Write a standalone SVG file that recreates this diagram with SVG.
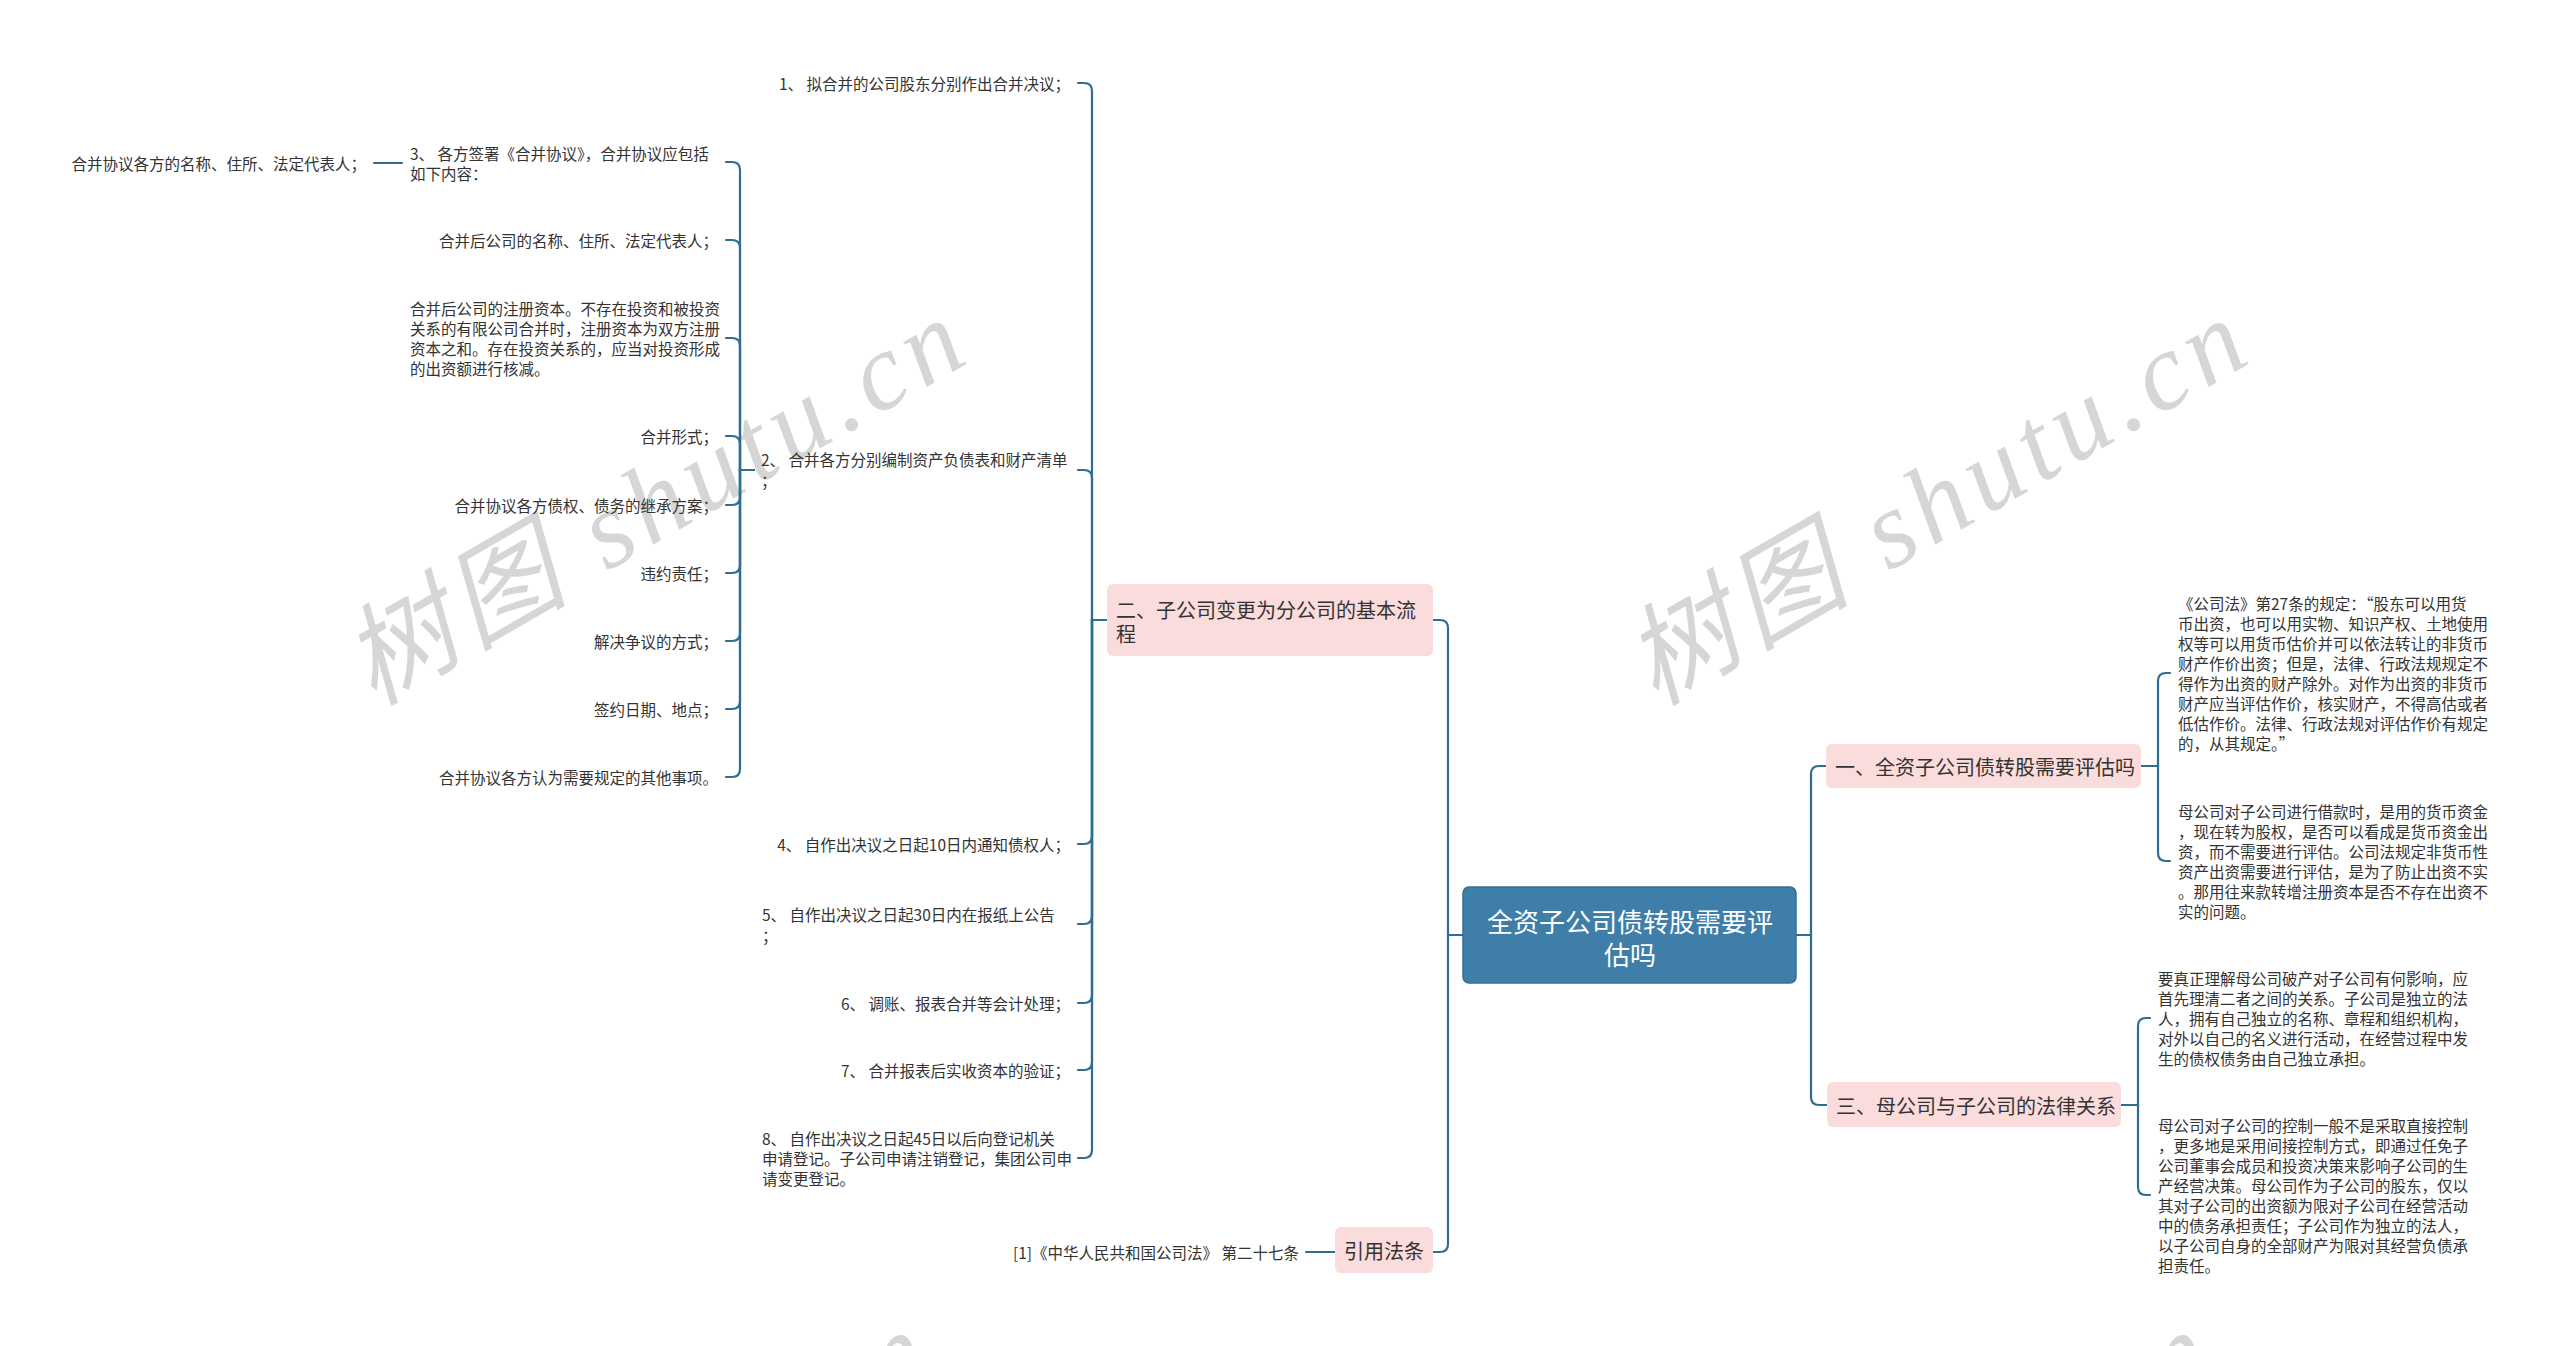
<svg xmlns="http://www.w3.org/2000/svg" width="2560" height="1346" viewBox="0 0 2560 1346">
<style>
text{font-family:"Noto Sans CJK SC","Noto Sans",sans-serif;fill:#333;dominant-baseline:central}
.leaf{font-size:15.5px}
.end{text-anchor:end}
.br{font-size:20px}
.root{font-size:26px;fill:#fff;text-anchor:middle}
.nb{fill:#fadcdc}
.wm{font-family:"Liberation Serif","Noto Sans CJK SC",serif;font-style:italic;font-size:110px;fill:#d2d2d2;fill-opacity:0.9;dominant-baseline:alphabetic;text-anchor:middle}
#connectors path{fill:none;stroke:#2f6d93;stroke-width:2.2;stroke-linecap:round}
</style>
<rect width="2560" height="1346" fill="#fff"/>
<g id="watermarks">
<text class="wm" transform="translate(672 534) rotate(-30)" textLength="690" lengthAdjust="spacing">树图 shutu.cn</text>
<text class="wm" transform="translate(1954 534) rotate(-30)" textLength="690" lengthAdjust="spacing">树图 shutu.cn</text>
<text class="wm" transform="translate(636 1546) rotate(-30)" textLength="690" lengthAdjust="spacing">树图 shutu.cn</text>
<text class="wm" transform="translate(1918 1546) rotate(-30)" textLength="690" lengthAdjust="spacing">树图 shutu.cn</text>
</g>
<g id="connectors">
<path d="M1463 935H1448V628Q1448 620 1440 620H1433"/>
<path d="M1463 935H1448V1244Q1448 1252 1440 1252H1433"/>
<path d="M1796 935H1811V774Q1811 766 1819 766H1826"/>
<path d="M1796 935H1811V1097Q1811 1105 1819 1105H1827"/>
<path d="M2141 766H2158V681Q2158 673 2166 673H2170"/>
<path d="M2141 766H2158V853Q2158 861 2166 861H2170"/>
<path d="M2121 1105H2138V1026Q2138 1018 2146 1018H2150"/>
<path d="M2121 1105H2138V1187Q2138 1195 2146 1195H2150"/>
<path d="M1107 620H1092V91Q1092 83 1084 83H1078"/>
<path d="M1107 620H1092V478Q1092 470 1084 470H1078"/>
<path d="M1107 620H1092V836Q1092 844 1084 844H1078"/>
<path d="M1107 620H1092V916Q1092 924 1084 924H1078"/>
<path d="M1107 620H1092V995Q1092 1003 1084 1003H1078"/>
<path d="M1107 620H1092V1062Q1092 1070 1084 1070H1078"/>
<path d="M1107 620H1092V1150Q1092 1158 1084 1158H1078"/>
<path d="M754 470H740V170Q740 162 732 162H726"/>
<path d="M754 470H740V248Q740 240 732 240H726"/>
<path d="M754 470H740V346Q740 338 732 338H726"/>
<path d="M754 470H740V444Q740 436 732 436H726"/>
<path d="M754 470H740V497Q740 505 732 505H726"/>
<path d="M754 470H740V565Q740 573 732 573H726"/>
<path d="M754 470H740V633Q740 641 732 641H726"/>
<path d="M754 470H740V701Q740 709 732 709H726"/>
<path d="M754 470H740V769Q740 777 732 777H726"/>
<path d="M402 163H374"/>
<path d="M1335 1252H1306"/>
</g>
<g id="root">
<rect x="1463" y="887" width="333" height="96" rx="6" fill="#3e7ea8" stroke="#356f95" stroke-width="1.5"/>
<text class="root" x="1630" y="920">全资子公司债转股需要评</text>
<text class="root" x="1630" y="953">估吗</text>
</g>
<g id="b1">
<rect class="nb" x="1826" y="744" width="315" height="44" rx="6"/>
<text class="br" x="1835" y="766">一、全资子公司债转股需要评估吗</text>
</g>
<g id="b1-p1">
<text class="leaf" x="2178" y="603">《公司法》第27条的规定：“股东可以用货</text>
<text class="leaf" x="2178" y="623">币出资，也可以用实物、知识产权、土地使用</text>
<text class="leaf" x="2178" y="643">权等可以用货币估价并可以依法转让的非货币</text>
<text class="leaf" x="2178" y="663">财产作价出资；但是，法律、行政法规规定不</text>
<text class="leaf" x="2178" y="683">得作为出资的财产除外。对作为出资的非货币</text>
<text class="leaf" x="2178" y="703">财产应当评估作价，核实财产，不得高估或者</text>
<text class="leaf" x="2178" y="723">低估作价。法律、行政法规对评估作价有规定</text>
<text class="leaf" x="2178" y="743">的，从其规定。”</text>
</g>
<g id="b1-p2">
<text class="leaf" x="2178" y="811">母公司对子公司进行借款时，是用的货币资金</text>
<text class="leaf" x="2178" y="831">，现在转为股权，是否可以看成是货币资金出</text>
<text class="leaf" x="2178" y="851">资，而不需要进行评估。公司法规定非货币性</text>
<text class="leaf" x="2178" y="871">资产出资需要进行评估，是为了防止出资不实</text>
<text class="leaf" x="2178" y="891">。那用往来款转增注册资本是否不存在出资不</text>
<text class="leaf" x="2178" y="911">实的问题。</text>
</g>
<g id="b3">
<rect class="nb" x="1827" y="1082" width="294" height="45" rx="6"/>
<text class="br" x="1836" y="1105">三、母公司与子公司的法律关系</text>
</g>
<g id="b3-p1">
<text class="leaf" x="2158" y="978">要真正理解母公司破产对子公司有何影响，应</text>
<text class="leaf" x="2158" y="998">首先理清二者之间的关系。子公司是独立的法</text>
<text class="leaf" x="2158" y="1018">人，拥有自己独立的名称、章程和组织机构，</text>
<text class="leaf" x="2158" y="1038">对外以自己的名义进行活动，在经营过程中发</text>
<text class="leaf" x="2158" y="1058">生的债权债务由自己独立承担。</text>
</g>
<g id="b3-p2">
<text class="leaf" x="2158" y="1125">母公司对子公司的控制一般不是采取直接控制</text>
<text class="leaf" x="2158" y="1145">，更多地是采用间接控制方式，即通过任免子</text>
<text class="leaf" x="2158" y="1165">公司董事会成员和投资决策来影响子公司的生</text>
<text class="leaf" x="2158" y="1185">产经营决策。母公司作为子公司的股东，仅以</text>
<text class="leaf" x="2158" y="1205">其对子公司的出资额为限对子公司在经营活动</text>
<text class="leaf" x="2158" y="1225">中的债务承担责任；子公司作为独立的法人，</text>
<text class="leaf" x="2158" y="1245">以子公司自身的全部财产为限对其经营负债承</text>
<text class="leaf" x="2158" y="1265">担责任。</text>
</g>
<g id="b2">
<rect class="nb" x="1107" y="584" width="326" height="72" rx="6"/>
<text class="br" x="1116" y="609">二、子公司变更为分公司的基本流</text>
<text class="br" x="1116" y="633">程</text>
</g>
<g id="b2-c1"><text class="leaf end" x="1070" y="83">1、 拟合并的公司股东分别作出合并决议；</text></g>
<g id="b2-c2">
<text class="leaf" x="761" y="459">2、 合并各方分别编制资产负债表和财产清单</text>
<text class="leaf" x="761" y="480">；</text>
</g>
<g id="c2-3">
<text class="leaf" x="410" y="153">3、 各方签署《合并协议》，合并协议应包括</text>
<text class="leaf" x="410" y="173">如下内容：</text>
</g>
<g id="c3-1"><text class="leaf end" x="366" y="163">合并协议各方的名称、住所、法定代表人；</text></g>
<g id="c2-4"><text class="leaf end" x="718" y="240">合并后公司的名称、住所、法定代表人；</text></g>
<g id="c2-5">
<text class="leaf" x="410" y="308">合并后公司的注册资本。不存在投资和被投资</text>
<text class="leaf" x="410" y="328">关系的有限公司合并时，注册资本为双方注册</text>
<text class="leaf" x="410" y="348">资本之和。存在投资关系的，应当对投资形成</text>
<text class="leaf" x="410" y="368">的出资额进行核减。</text>
</g>
<g id="c2-6"><text class="leaf end" x="718" y="436">合并形式；</text></g>
<g id="c2-7"><text class="leaf end" x="718" y="505">合并协议各方债权、债务的继承方案；</text></g>
<g id="c2-8"><text class="leaf end" x="718" y="573">违约责任；</text></g>
<g id="c2-9"><text class="leaf end" x="718" y="641">解决争议的方式；</text></g>
<g id="c2-10"><text class="leaf end" x="718" y="709">签约日期、地点；</text></g>
<g id="c2-11"><text class="leaf end" x="718" y="777">合并协议各方认为需要规定的其他事项。</text></g>
<g id="b2-c4"><text class="leaf end" x="1070" y="844">4、 自作出决议之日起10日内通知债权人；</text></g>
<g id="b2-c5">
<text class="leaf" x="762" y="914">5、 自作出决议之日起30日内在报纸上公告</text>
<text class="leaf" x="762" y="935">；</text>
</g>
<g id="b2-c6"><text class="leaf end" x="1070" y="1003">6、 调账、报表合并等会计处理；</text></g>
<g id="b2-c7"><text class="leaf end" x="1070" y="1070">7、 合并报表后实收资本的验证；</text></g>
<g id="b2-c8">
<text class="leaf" x="762" y="1138">8、 自作出决议之日起45日以后向登记机关</text>
<text class="leaf" x="762" y="1158">申请登记。子公司申请注销登记，集团公司申</text>
<text class="leaf" x="762" y="1178">请变更登记。</text>
</g>
<g id="ref">
<rect class="nb" x="1335" y="1227" width="98" height="46" rx="6"/>
<text class="br" x="1384" y="1250" style="text-anchor:middle">引用法条</text>
</g>
<g id="ref-c1"><text class="leaf end" x="1299" y="1252">[1]《中华人民共和国公司法》 第二十七条</text></g>
</svg>
